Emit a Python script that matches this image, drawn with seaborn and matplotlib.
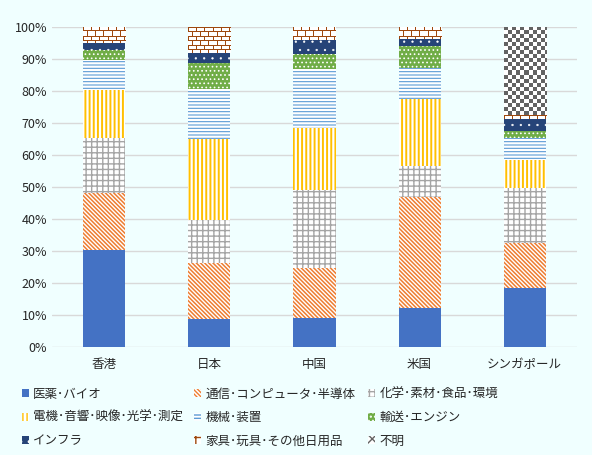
import numpy as np
import matplotlib
matplotlib.use("Agg")
import matplotlib.pyplot as plt
from matplotlib.patches import Patch
from matplotlib.colors import to_rgba
from matplotlib.ticker import FuncFormatter
import seaborn as sns

# ---------------------------
# data (share, %)
# ---------------------------
countries = ['香港', '日本', '中国', '米国', 'シンガポール']
categories = ['医薬･バイオ', '通信･コンピュータ･半導体', '化学･素材･食品･環境',
              '電機･音響･映像･光学･測定', '機械･装置', '輸送･エンジン',
              'インフラ', '家具･玩具･その他日用品', '不明']

med = [30.2, 8.8, 9.1, 12.2, 18.4]
tel = [17.9, 17.4, 15.7, 34.7, 14.0]
chem = [17.3, 13.6, 24.2, 9.8, 17.4]
elec = [15.0, 25.3, 19.4, 20.7, 8.5]
mach = [9.4, 15.6, 18.4, 9.8, 7.0]
trans = [2.9, 7.9, 4.9, 6.9, 2.1]
infra = [2.3, 3.3, 4.1, 2.1, 3.8]
furn = [5.0, 8.1, 4.2, 3.8, 1.2]
unknown = [0.0, 0.0, 0.0, 0.0, 27.6]

series = [med, tel, chem, elec, mach, trans, infra, furn, unknown]

# face colour, hatch colour, hatch (bars / legend icon), hatch line width, pixel texture
styles = [
    ('#4472C4', '#4472C4', None, 1.0, None),
    ('white', '#ED7D31', '\\' * 8, 1.1, None),
    ('white', '#A5A5A5', '+++', 1.0, None),
    ('white', '#FFC000', '||||', 1.4, None),
    ('white', '#5B9BD5', '-----', 0.8, None),
    ('#70AD47', 'white', '....', 0.7, None),
    ('#264478', 'white', '..', 0.4, None),
    ('white', '#9E480E', '++', 1.0, 'brick'),
    ('white', '#636363', 'xxx', 1.6, 'checker'),
]


def style_patch(p, fc, hc, hatch, hlw):
    p.set_facecolor(fc)
    p.set_edgecolor(hc)
    p.set_linewidth(0)
    if hatch:
        p.set_hatch(hatch)
        if hasattr(p, 'set_hatch_linewidth'):
            p.set_hatch_linewidth(hlw)


def make_tile(kind, color):
    c = np.array(to_rgba(color))
    w = np.array([1.0, 1.0, 1.0, 1.0])
    if kind == 'checker':
        mask = np.zeros((8, 8), bool)
        mask[:4, :4] = True
        mask[4:, 4:] = True
    else:  # brick rows of 4/5 px, bricks 8 px wide
        mask = np.zeros((9, 8), bool)
        mask[0, :] = True
        mask[1:4, 0] = True
        mask[4, :] = True
        mask[5:9, 4] = True
    return np.where(mask[..., None], c, w)


def texture(ax, patch, tile):
    (x0, y0), (x1, y1) = patch.get_bbox().get_points()
    p0 = ax.transData.transform((x0, y0))
    p1 = ax.transData.transform((x1, y1))
    w = max(int(round(p1[0] - p0[0])), 1)
    h = max(int(round(p1[1] - p0[1])), 1)
    th, tw = tile.shape[:2]
    img = np.tile(tile, (h // th + 2, w // tw + 2, 1))[:h, :w]
    im = ax.imshow(img, extent=(x0, x1, y0, y1), aspect='auto',
                   interpolation='nearest', origin='upper',
                   zorder=patch.get_zorder() + 0.01)
    im.set_clip_path(patch)


bg = '#F0FFFF'
sns.set_style("white")
plt.rcParams['font.family'] = ['Noto Sans CJK JP', 'DejaVu Sans']
plt.rcParams['hatch.linewidth'] = 1.0

fig = plt.figure(figsize=(5.92, 4.55), dpi=100, facecolor=bg)
ax = fig.add_axes([0.0878, 0.2374, 0.8869, 0.7033])
ax.set_facecolor(bg)

bottom = np.zeros(len(countries))
textured = []
for vals, (fc, hc, hatch, hlw, tex) in zip(series, styles):
    v = np.array(vals) / 100.0
    sns.barplot(x=countries, y=v, bottom=bottom, order=countries, width=0.4,
                color=fc, linewidth=0, ax=ax)
    for p in ax.containers[-1]:
        if tex:
            style_patch(p, fc, hc, None, hlw)
            if p.get_height() > 0:
                textured.append((p, make_tile(tex, hc)))
        else:
            style_patch(p, fc, hc, hatch, hlw)
    bottom += v

ax.set_xlim(-0.5, 4.5)
ax.set_ylim(0, 1.0)
for p, tile in textured:
    texture(ax, p, tile)
ax.set_xlim(-0.5, 4.5)
ax.set_ylim(0, 1.0)

ax.set_yticks(np.arange(0, 1.01, 0.1))
ax.yaxis.set_major_formatter(FuncFormatter(lambda y, _: f'{int(round(y * 100))}%'))
ax.yaxis.grid(True, color='#D9D9D9', linewidth=1)
ax.set_axisbelow(True)
for s in ax.spines.values():
    s.set_visible(False)
ax.tick_params(axis='both', length=0, labelsize=9, colors='#262626')
ax.tick_params(axis='x', pad=8)
ax.set_xlabel('')
ax.set_ylabel('')

# legend: three columns, filled row by row
handles = []
for c, (fc, hc, h, hlw, tex) in zip(categories, styles):
    hp = Patch(label=c)
    style_patch(hp, fc, hc, h, hlw)
    handles.append(hp)

col_x = [0.018, 0.309, 0.603]
for j, x0 in enumerate(col_x):
    idx = [j, j + 3, j + 6]
    fig.legend([handles[i] for i in idx], [categories[i] for i in idx],
               loc='center left', bbox_to_anchor=(x0, 0.082), ncol=1, frameon=False,
               fontsize=9, handlelength=0.55, handleheight=0.6, handletextpad=0.35,
               labelspacing=0.83)

fig.savefig('out.png', dpi=100, facecolor=bg)
